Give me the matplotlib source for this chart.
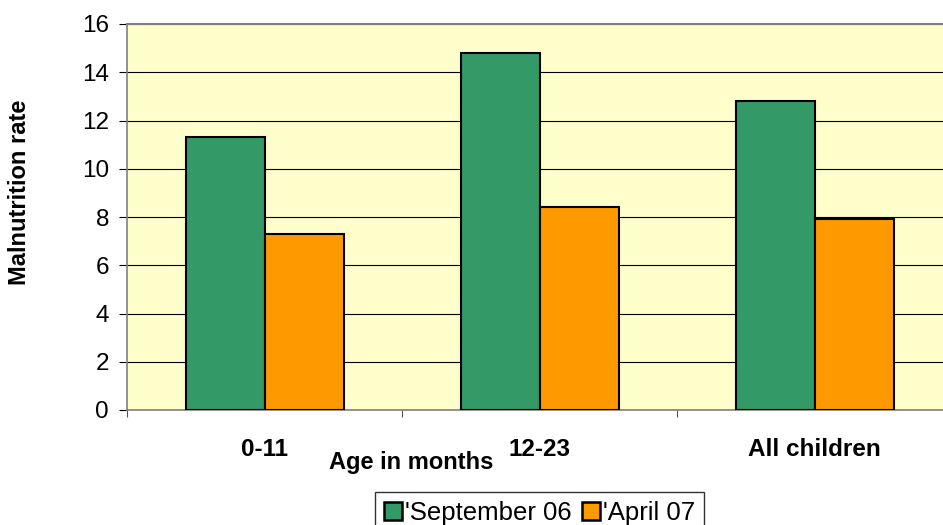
import matplotlib
matplotlib.use("Agg")
import matplotlib.pyplot as plt
import matplotlib.transforms as mtrans
import numpy as np

categories = ["0-11", "12-23", "All children"]
series_names = ["'September 06", "'April 07"]
sep06 = [11.3, 14.8, 12.8]
apr07 = [7.3, 8.4, 7.9]
yticks = [0, 2, 4, 6, 8, 10, 12, 14, 16]

plt.rcParams['font.family'] = ['Liberation Sans', 'DejaVu Sans']

W, H = 943, 525
fig = plt.figure(figsize=(W / 100, H / 100), dpi=100)
# plot area from x=127..952 (cropped at 943), y=24..410
ax = fig.add_axes([127 / W, (H - 410) / H, (952 - 127) / W, (410 - 24) / H])
ax.set_facecolor('#FFFFCC')

x = np.arange(len(categories))
bw = 79 / 275
ax.bar(x - bw / 2, sep06, width=bw, color='#339966', edgecolor='black', linewidth=1.5,
       label=series_names[0], zorder=3)
ax.bar(x + bw / 2, apr07, width=bw, color='#FF9900', edgecolor='black', linewidth=1.5,
       label=series_names[1], zorder=3)

ax.set_xlim(-0.5, 2.5)
ax.set_ylim(0, 16)
ax.set_yticks(yticks)
ax.set_yticklabels([str(v) for v in yticks], fontsize=17.5)
ax.yaxis.grid(True, color='black', linewidth=0.8, zorder=0)
ax.set_axisbelow(True)

ax.set_xticks([-0.5, 0.5, 1.5, 2.5])
ax.set_xticklabels([])
ax.tick_params(axis='x', length=5, color='#555555', direction='out')
ax.tick_params(axis='y', length=6, color='black', direction='out', pad=7)

tr = mtrans.blended_transform_factory(ax.transData, fig.transFigure)
for i, c in enumerate(categories):
    ax.text(i, 1 - 449 / H, c, ha='center', va='center', fontsize=17.5, fontweight='bold',
            transform=tr)

ax.spines['right'].set_visible(False)
ax.spines['top'].set_color('#808080')
ax.spines['top'].set_linewidth(1.5)
ax.spines['left'].set_color('#808080')
ax.spines['left'].set_linewidth(1.2)
ax.spines['bottom'].set_color('#808080')
ax.spines['bottom'].set_linewidth(1.2)

fig.text(411 / W, 1 - 463 / H, "Age in months", ha='center', va='center',
         fontsize=17, fontweight='bold')
fig.text(20 / W, 1 - 192 / H, "Malnutrition rate", ha='center', va='center',
         fontsize=17, fontweight='bold', rotation=90)

leg = fig.legend(loc='upper left', bbox_to_anchor=(375 / W, 1 - 492 / H), ncol=2,
                 fontsize=18.5, frameon=True, fancybox=False, edgecolor='black',
                 handlelength=0.7, handleheight=0.7, handletextpad=0.12,
                 columnspacing=0.4, borderpad=0.35, borderaxespad=0)
leg.get_frame().set_linewidth(1.0)
for h in leg.legend_handles:
    h.set_edgecolor('black')
    h.set_linewidth(1.8)

fig.savefig("out.png", dpi=100)
